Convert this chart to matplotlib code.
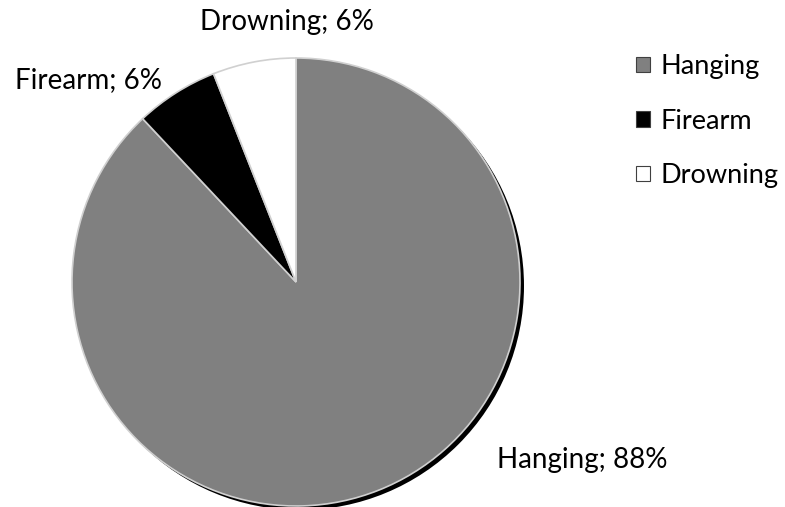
import matplotlib
matplotlib.use("Agg")
import matplotlib.pyplot as plt
from matplotlib.patches import Circle, Patch

categories = ["Hanging", "Firearm", "Drowning"]
values = [88, 6, 6]
colors = ["#808080", "#000000", "#ffffff"]
label_texts = ["Hanging; 88%", "Firearm; 6%", "Drowning; 6%"]

W, H = 785, 507
fig = plt.figure(figsize=(W / 100, H / 100), dpi=100)
ax = fig.add_axes([0, 0, 1, 1])

cx, cy, r = 296, H - 282, 224
# shadow
ax.add_patch(Circle((cx + 4, cy - 4), r, facecolor="black", edgecolor="none", zorder=0))
wedges, _ = ax.pie(values, colors=colors, startangle=90, counterclock=False,
                   center=(cx, cy), radius=r, frame=True,
                   wedgeprops=dict(edgecolor="#d0d0d0", linewidth=1.2))
for w in wedges:
    w.set_zorder(1)
ax.set_xlim(0, W)
ax.set_ylim(0, H)
ax.set_aspect("equal")
ax.axis("off")

fam = ["Lato", "DejaVu Sans"]
fs = 20
ax.text(497, H - 460, label_texts[0], fontsize=fs, family=fam, va="center", ha="left")
ax.text(15, H - 80, label_texts[1], fontsize=fs, family=fam, va="center", ha="left")
ax.text(200, H - 22, label_texts[2], fontsize=fs, family=fam, va="center", ha="left")

handles = [Patch(facecolor=c, edgecolor="#404040", linewidth=0.8) for c in colors]
leg = ax.legend(handles, categories, loc="upper left", bbox_to_anchor=(612 / W, 1 - 30 / H),
                frameon=False, prop={"family": fam, "size": 19.5},
                handlelength=0.5, handleheight=0.5, handletextpad=0.4, labelspacing=1.08)

fig.savefig("out.png", dpi=100)
